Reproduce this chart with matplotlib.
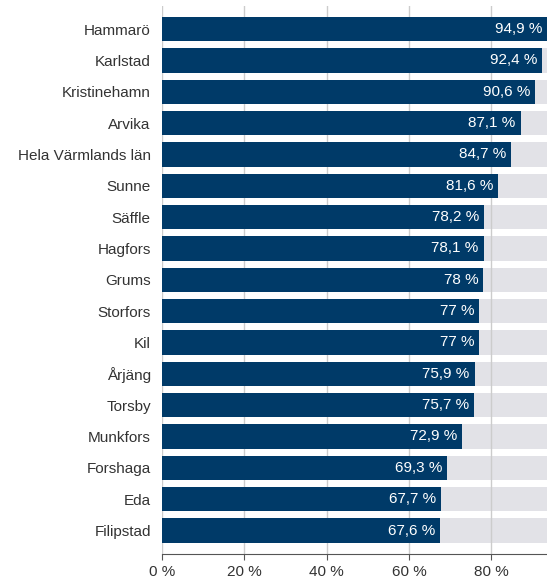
import matplotlib.pyplot as plt
import numpy as np

plt.rcParams["font.family"] = ["Liberation Sans", "DejaVu Sans"]

kommuner = [
    "Hammarö", "Karlstad", "Kristinehamn", "Arvika", "Hela Värmlands län",
    "Sunne", "Säffle", "Hagfors", "Grums", "Storfors", "Kil", "Årjäng",
    "Torsby", "Munkfors", "Forshaga", "Eda", "Filipstad",
]
andel = [94.9, 92.4, 90.6, 87.1, 84.7, 81.6, 78.2, 78.1, 78, 77, 77, 75.9,
         75.7, 72.9, 69.3, 67.7, 67.6]
xticks = [0, 20, 40, 60, 80]

blue = "#003a68"
bg = "#e2e2e7"

fig = plt.figure(figsize=(5.47, 5.8), dpi=100)
ax = fig.add_axes([0.296, 0.0448, 0.704, 0.945])

y = np.arange(len(kommuner))
xmax = 93.5
ax.barh(y, [100] * len(y), height=0.77, color=bg, zorder=1)
ax.barh(y, andel, height=0.77, color=blue, zorder=3)
for yi, v in zip(y, andel):
    txt = f"{v:g}".replace(".", ",") + " %"
    ax.text(min(v, xmax) - 1.2, yi, txt, color="white", ha="right",
            va="center", fontsize=11, zorder=4)

ax.set_xlim(0, xmax)
ax.set_ylim(len(y) - 0.25, -0.74)
ax.set_yticks(y)
ax.set_yticklabels(kommuner, fontsize=11, color="#333333")
ax.set_xticks(xticks)
ax.set_xticklabels([f"{t} %" for t in xticks], fontsize=11, color="#333333")
ax.tick_params(axis="y", length=0, pad=8)
ax.tick_params(axis="x", length=4, color="#555555", pad=4)
ax.xaxis.grid(True, color="#cccccc", lw=1, zorder=2)
ax.set_axisbelow(False)
for s in ["top", "right", "left"]:
    ax.spines[s].set_visible(False)
ax.spines["bottom"].set_color("#555555")
ax.spines["bottom"].set_zorder(5)

fig.savefig("out.png", dpi=100)
